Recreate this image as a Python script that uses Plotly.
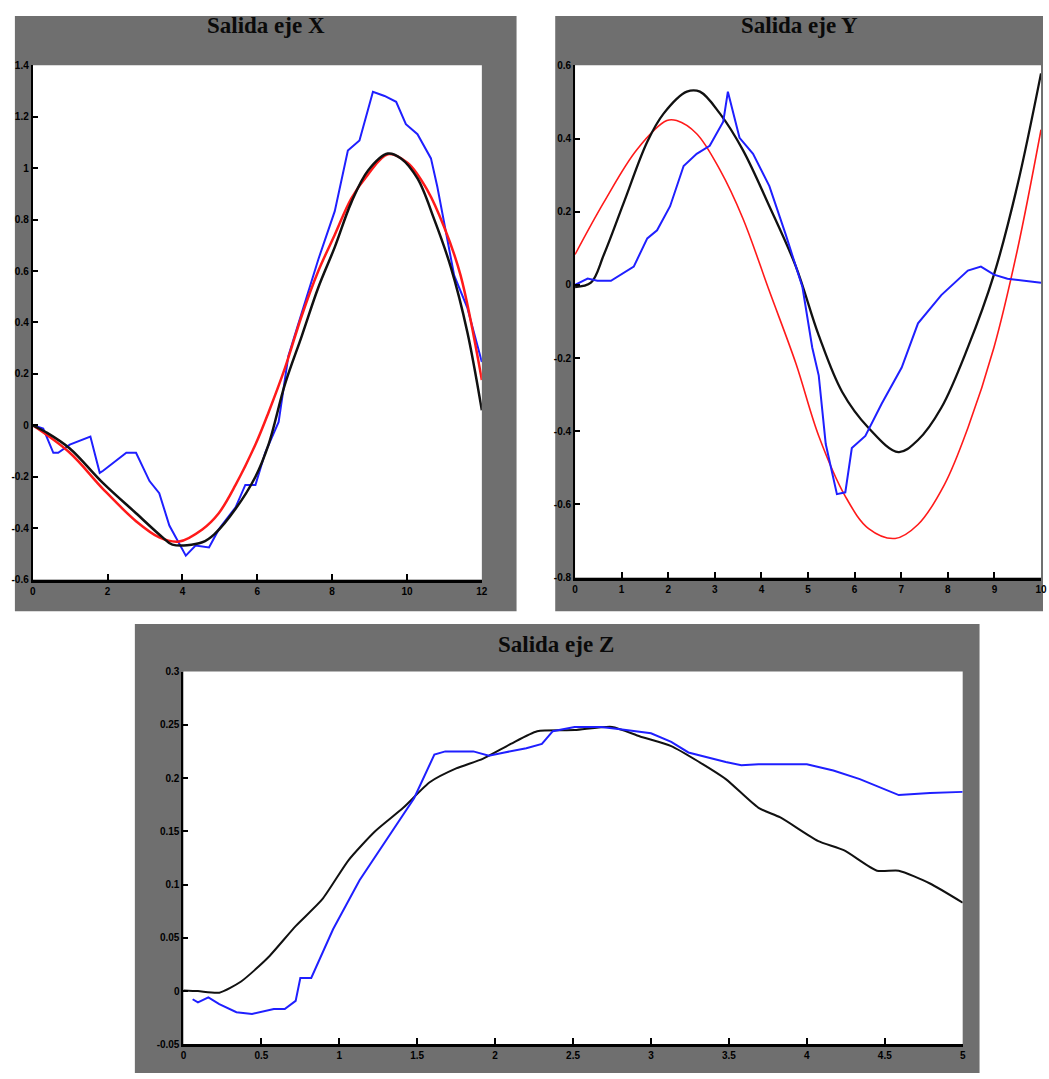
import plotly.graph_objects as go

# ---------------- Data: Salida eje X ----------------
x_black_X = [0, 0.37, 0.99, 1.88, 2.76, 3.47, 3.73, 4.53, 4.88, 5.42, 5.95, 6.30, 6.74, 7.19, 7.63, 8.07, 8.51, 8.96, 9.49, 9.84, 10.28, 10.73, 11.17, 11.61, 12.0]
y_black_X = [0, -0.028, -0.09, -0.225, -0.342, -0.436, -0.464, -0.455, -0.42, -0.325, -0.20, -0.075, 0.16, 0.348, 0.536, 0.693, 0.866, 0.991, 1.057, 1.038, 0.96, 0.80, 0.615, 0.364, 0.058]

x_red_X = [0, 0.99, 1.88, 2.76, 3.38, 3.91, 4.53, 4.97, 5.42, 5.95, 6.30, 6.74, 7.19, 7.63, 8.07, 8.51, 8.96, 9.49, 10.02, 10.55, 10.99, 11.43, 12.0]
y_red_X = [0, -0.107, -0.248, -0.373, -0.436, -0.452, -0.405, -0.342, -0.232, -0.075, 0.05, 0.223, 0.427, 0.60, 0.741, 0.882, 0.976, 1.054, 1.02, 0.913, 0.772, 0.584, 0.176]

x_blue_X = [0, 0.28, 0.55, 0.68, 0.99, 1.43, 1.54, 1.79, 1.88, 2.50, 2.76, 3.12, 3.38, 3.65, 3.82, 4.09, 4.35, 4.71, 4.97, 5.42, 5.68, 5.95, 6.21, 6.57, 6.83, 7.19, 7.63, 8.07, 8.42, 8.73, 9.09, 9.40, 9.71, 9.97, 10.28, 10.64, 10.81, 11.26, 11.61, 12.0]
y_blue_X = [0, -0.013, -0.107, -0.107, -0.075, -0.052, -0.044, -0.185, -0.177, -0.107, -0.107, -0.217, -0.264, -0.39, -0.436, -0.507, -0.468, -0.475, -0.405, -0.319, -0.232, -0.232, -0.107, 0.013, 0.27, 0.44, 0.645, 0.833, 1.069, 1.108, 1.297, 1.281, 1.258, 1.171, 1.132, 1.038, 0.928, 0.583, 0.458, 0.246]

# ---------------- Data: Salida eje Y ----------------
x_red_Y = [0, 0.62, 1.33, 1.97, 2.18, 2.61, 3.11, 3.60, 4.17, 4.74, 5.23, 5.80, 6.30, 6.87, 7.36, 7.93, 8.43, 8.99, 9.49, 10.0]
y_red_Y = [0.083, 0.226, 0.37, 0.449, 0.449, 0.413, 0.314, 0.182, -0.017, -0.215, -0.413, -0.578, -0.666, -0.693, -0.655, -0.545, -0.391, -0.171, 0.094, 0.424]

x_black_Y = [0, 0.34, 0.62, 1.05, 1.55, 1.90, 2.40, 2.68, 3.11, 3.60, 4.17, 4.74, 5.23, 5.73, 6.30, 6.94, 7.36, 7.86, 8.43, 8.99, 9.49, 10.0]
y_black_Y = [-0.006, 0.006, 0.083, 0.226, 0.391, 0.468, 0.528, 0.528, 0.468, 0.369, 0.215, 0.05, -0.138, -0.292, -0.391, -0.457, -0.424, -0.336, -0.171, 0.028, 0.270, 0.578]

x_blue_Y = [0, 0.27, 0.48, 0.77, 1.26, 1.55, 1.76, 2.04, 2.33, 2.61, 2.89, 3.18, 3.28, 3.53, 3.82, 4.17, 4.52, 4.88, 5.09, 5.23, 5.38, 5.62, 5.80, 5.94, 6.23, 6.58, 7.01, 7.36, 7.86, 8.43, 8.71, 8.99, 9.28, 9.70, 10.0]
y_blue_Y = [0, 0.017, 0.011, 0.011, 0.050, 0.127, 0.149, 0.215, 0.325, 0.358, 0.380, 0.446, 0.528, 0.402, 0.358, 0.270, 0.138, -0.006, -0.171, -0.248, -0.435, -0.572, -0.567, -0.446, -0.413, -0.325, -0.226, -0.105, -0.028, 0.039, 0.050, 0.028, 0.017, 0.011, 0.006]

# ---------------- Data: Salida eje Z ----------------
x_black_Z = [0, 0.093, 0.23, 0.37, 0.54, 0.72, 0.89, 1.06, 1.23, 1.41, 1.58, 1.75, 1.92, 2.10, 2.27, 2.51, 2.75, 2.93, 3.13, 3.31, 3.48, 3.69, 3.83, 4.07, 4.24, 4.45, 4.59, 4.79, 5.0]
y_black_Z = [0.0006, 0, -0.0015, 0.009, 0.031, 0.061, 0.086, 0.123, 0.150, 0.172, 0.196, 0.209, 0.218, 0.232, 0.244, 0.245, 0.248, 0.239, 0.230, 0.215, 0.199, 0.172, 0.163, 0.141, 0.132, 0.113, 0.113, 0.101, 0.083]

x_blue_Z = [0.059, 0.093, 0.16, 0.23, 0.34, 0.44, 0.58, 0.65, 0.72, 0.75, 0.82, 0.96, 1.13, 1.30, 1.48, 1.61, 1.68, 1.86, 1.96, 2.06, 2.20, 2.30, 2.37, 2.51, 2.68, 2.79, 3.00, 3.13, 3.24, 3.48, 3.58, 3.69, 3.83, 4.00, 4.17, 4.34, 4.59, 4.79, 5.0]
y_blue_Z = [-0.0077, -0.0107, -0.006, -0.0123, -0.0199, -0.0215, -0.0169, -0.0169, -0.0092, 0.0123, 0.0123, 0.058, 0.104, 0.141, 0.181, 0.222, 0.225, 0.225, 0.221, 0.224, 0.228, 0.232, 0.244, 0.248, 0.248, 0.246, 0.242, 0.234, 0.224, 0.215, 0.212, 0.213, 0.213, 0.213, 0.207, 0.199, 0.184, 0.186, 0.187]

# ---------------- Tick labels ----------------
xt_X = [0, 2, 4, 6, 8, 10, 12]
yt_X = [-0.6, -0.4, -0.2, 0, 0.2, 0.4, 0.6, 0.8, 1, 1.2, 1.4]
yl_X = ["-0.6", "-0.4", "-0.2", "0", "0.2", "0.4", "0.6", "0.8", "1", "1.2", "1.4"]
xt_Y = [0, 1, 2, 3, 4, 5, 6, 7, 8, 9, 10]
yt_Y = [-0.8, -0.6, -0.4, -0.2, 0, 0.2, 0.4, 0.6]
yl_Y = ["-0.8", "-0.6", "-0.4", "-0.2", "0", "0.2", "0.4", "0.6"]
xt_Z = [0, 0.5, 1, 1.5, 2, 2.5, 3, 3.5, 4, 4.5, 5]
xl_Z = ["0", "0.5", "1", "1.5", "2", "2.5", "3", "3.5", "4", "4.5", "5"]
yt_Z = [-0.05, 0, 0.05, 0.1, 0.15, 0.2, 0.25, 0.3]
yl_Z = ["-0.05", "0", "0.05", "0.1", "0.15", "0.2", "0.25", "0.3"]

titles = ["Salida eje X", "Salida eje Y", "Salida eje Z"]

W, H = 1049, 1079
BLUE = "#1f1fff"
RED = "#ff1a1a"
BLACK = "#111111"
GRAY = "#6f6f6f"

fig = go.Figure()

# X panel
fig.add_trace(go.Scatter(x=x_blue_X, y=y_blue_X, mode="lines", line=dict(color=BLUE, width=2), xaxis="x", yaxis="y"))
fig.add_trace(go.Scatter(x=x_red_X, y=y_red_X, mode="lines", line=dict(color=RED, width=2.5, shape="spline"), xaxis="x", yaxis="y"))
fig.add_trace(go.Scatter(x=x_black_X, y=y_black_X, mode="lines", line=dict(color=BLACK, width=2.5, shape="spline"), xaxis="x", yaxis="y"))
# Y panel
fig.add_trace(go.Scatter(x=x_red_Y, y=y_red_Y, mode="lines", line=dict(color=RED, width=1.6, shape="spline"), xaxis="x2", yaxis="y2"))
fig.add_trace(go.Scatter(x=x_black_Y, y=y_black_Y, mode="lines", line=dict(color=BLACK, width=2.3, shape="spline"), xaxis="x2", yaxis="y2"))
fig.add_trace(go.Scatter(x=x_blue_Y, y=y_blue_Y, mode="lines", line=dict(color=BLUE, width=2), xaxis="x2", yaxis="y2"))
# Z panel
fig.add_trace(go.Scatter(x=x_black_Z, y=y_black_Z, mode="lines", line=dict(color=BLACK, width=2, shape="spline", smoothing=0.6), xaxis="x3", yaxis="y3"))
fig.add_trace(go.Scatter(x=x_blue_Z, y=y_blue_Z, mode="lines", line=dict(color=BLUE, width=2), xaxis="x3", yaxis="y3"))

def px_x(p):
    return p / W

def px_y(p):
    return 1 - p / H

tickfont = dict(family="Liberation Sans Narrow, Liberation Sans, Arial", size=10, color="black", weight="bold")

def xaxis(dom, rng, vals, text, anchor):
    return dict(domain=dom, range=rng, tickvals=vals, ticktext=text, ticks="inside", ticklen=6,
                tickcolor="black", tickwidth=2, showline=True, linecolor="black", linewidth=3,
                showgrid=False, zeroline=False, tickfont=tickfont, anchor=anchor, fixedrange=True)

def yaxis(dom, rng, vals, text, anchor):
    return dict(domain=dom, range=rng, tickvals=vals, ticktext=text, ticks="inside", ticklen=5,
                tickcolor="black", tickwidth=2, showline=True, linecolor="black", linewidth=2,
                showgrid=False, zeroline=False, tickfont=tickfont, anchor=anchor, fixedrange=True)

plot_boxes = [(30, 483, 60, 580), (577, 1047, 60, 578), (182, 968, 673, 1050)]

layout = dict(
    width=W, height=H,
    margin=dict(l=0, r=0, t=0, b=0),
    paper_bgcolor="white", plot_bgcolor="white",
    showlegend=False,
    xaxis=xaxis([px_x(30), px_x(483)], [0, 12], xt_X, [str(v) for v in xt_X], "y"),
    yaxis=yaxis([px_y(580), px_y(60)], [-0.6, 1.4], yt_X, yl_X, "x"),
    xaxis2=xaxis([px_x(577), px_x(1047)], [0, 10], xt_Y, [str(v) for v in xt_Y], "y2"),
    yaxis2=yaxis([px_y(578), px_y(60)], [-0.8, 0.6], yt_Y, yl_Y, "x2"),
    xaxis3=xaxis([px_x(182), px_x(968)], [0, 5], xt_Z, xl_Z, "y3"),
    yaxis3=yaxis([px_y(1050), px_y(673)], [-0.05, 0.3], yt_Z, yl_Z, "x3"),
)

shapes = []
for (x0, x1, y0, y1) in [(12, 518, 10, 612), (557, 1049, 10, 612), (133, 985, 625, 1079)]:
    shapes.append(dict(type="rect", xref="paper", yref="paper", layer="below",
                       x0=px_x(x0), x1=px_x(x1), y0=px_y(y1), y1=px_y(y0),
                       fillcolor=GRAY, line=dict(width=0)))
for (x0, x1, y0, y1) in plot_boxes:
    shapes.append(dict(type="rect", xref="paper", yref="paper", layer="below",
                       x0=px_x(x0), x1=px_x(x1), y0=px_y(y1), y1=px_y(y0),
                       fillcolor="white", line=dict(width=0)))
layout["shapes"] = shapes

annotations = []
for t, cx, cy in zip(titles, [265, 803, 558], [20, 20, 646]):
    annotations.append(dict(text=t, x=px_x(cx), y=px_y(cy), xref="paper", yref="paper",
                            showarrow=False, xanchor="center", yanchor="middle",
                            font=dict(family="Liberation Serif, Times New Roman", size=23,
                                      color="#0a0a0a", weight="bold")))
layout["annotations"] = annotations

fig.update_layout(**layout)
fig.write_html("out.html")
